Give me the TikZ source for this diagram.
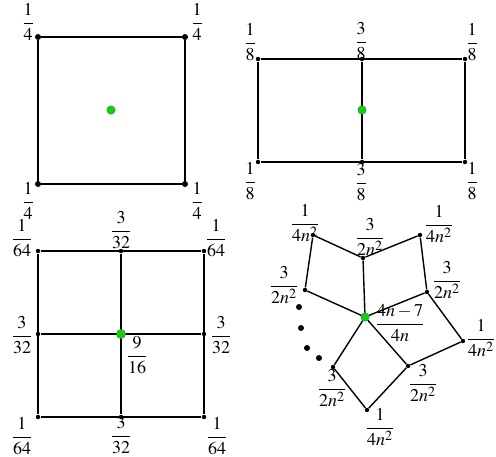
\documentclass[tikz,border=0pt]{standalone}
\usepackage{amsmath}
\usepackage{mathptmx}
\usepackage{tikz}
\usetikzlibrary{positioning}
\definecolor{mygreen}{RGB}{20,205,20}
\definecolor{mydark}{RGB}{0,0,0}
\tikzset{
  vtx/.style={circle, fill=mydark, inner sep=0pt, minimum size=2.2pt},
  bigvtx/.style={circle, fill=mydark, inner sep=0pt, minimum size=3pt},
  ctr/.style={circle, fill=mygreen, draw=mygreen!75!black, line width=0.2pt, inner sep=0pt, minimum size=4.2pt},
  side/.style={line width=0.9pt, color=mydark},
  thinside/.style={line width=0.7pt, color=mydark},
  lbl/.style={inner sep=0pt, font=\fontsize{9}{11}\selectfont}
}

\begin{document}
\begin{tikzpicture}[x=0.5pt, y=-0.5pt]
  \useasboundingbox (0,0) rectangle (496,456);
  % Square, one cell
  \node[bigvtx] (sa) at (38,37) {};
  \node[bigvtx] (sb) at (185,37) {};
  \node[bigvtx] (sc) at (185,184) {};
  \node[bigvtx] (sd) at (38,184) {};
  \node[ctr] (so) at (111,110) {};
  \draw[side] (sa) -- (sb) -- (sc) -- (sd) -- (sa);
  \node[lbl] (lsa) at (28,22) {$\dfrac{1}{4}$};
  \node[lbl] (lsb) at (197,22) {$\dfrac{1}{4}$};
  \node[lbl] (lsc) at (197,201) {$\dfrac{1}{4}$};
  \node[lbl] (lsd) at (28,201) {$\dfrac{1}{4}$};

  % Rectangle, two cells
  \node[vtx] (ra) at (258,59) {};
  \node[vtx] (rm) at (362,59) {};
  \node[vtx] (rb) at (465,59) {};
  \node[vtx] (rc) at (465,162) {};
  \node[vtx] (rn) at (362,162) {};
  \node[vtx] (rd) at (258,162) {};
  \draw[side] (ra) -- (rb) -- (rc) -- (rd) -- (ra);
  \draw[side] (rm) -- (rn);
  \node[ctr] (ro) at (362,110) {};
  \node[lbl] (lra) at (250,42) {$\dfrac{1}{8}$};
  \node[lbl] (lrm) at (361,41) {$\dfrac{3}{8}$};
  \node[lbl] (lrb) at (472,42) {$\dfrac{1}{8}$};
  \node[lbl] (lrd) at (250,181) {$\dfrac{1}{8}$};
  \node[lbl] (lrn) at (361,182) {$\dfrac{3}{8}$};
  \node[lbl] (lrc) at (472,181) {$\dfrac{1}{8}$};

  % Square, four cells
  \node[vtx] (qa) at (38,251) {};
  \node[vtx] (qt) at (121,251) {};
  \node[vtx] (qb) at (204,251) {};
  \node[vtx] (qr) at (204,334) {};
  \node[vtx] (qc) at (204,417) {};
  \node[vtx] (qm) at (121,417) {};
  \node[vtx] (qd) at (38,417) {};
  \node[vtx] (ql) at (38,334) {};
  \draw[side] (qa) -- (qb) -- (qc) -- (qd) -- (qa);
  \draw[side] (qt) -- (qm);
  \draw[side] (ql) -- (qr);
  \node[ctr, minimum size=4.6pt] (qo) at (121,334) {};
  \node[lbl] (lqa) at (22,238) {$\dfrac{1}{64}$};
  \node[lbl] (lqt) at (121,230) {$\dfrac{3}{32}$};
  \node[lbl] (lqb) at (216,238) {$\dfrac{1}{64}$};
  \node[lbl] (lql) at (22,335) {$\dfrac{3}{32}$};
  \node[lbl] (lqr) at (221,335) {$\dfrac{3}{32}$};
  \node[lbl] (lqo) at (137,355) {$\dfrac{9}{16}$};
  \node[lbl] (lqd) at (22,436) {$\dfrac{1}{64}$};
  \node[lbl] (lqm) at (121,435) {$\dfrac{3}{32}$};
  \node[lbl] (lqc) at (217,436) {$\dfrac{1}{64}$};

  % Star of cells around the centre
  \node[vtx] (ka) at (313,235) {};
  \node[vtx] (kb) at (363,258) {};
  \node[vtx] (kc) at (420,235) {};
  \node[vtx] (kd) at (427,292) {};
  \node[vtx] (ke) at (463,341) {};
  \node[vtx] (kf) at (408,366) {};
  \node[vtx] (kg) at (367,410) {};
  \node[vtx] (kh) at (333,367) {};
  \node[vtx] (ki) at (305,290) {};
  \node[ctr] (ko) at (365,317) {};
  \draw[thinside] (ki) -- (ka) -- (kb) -- (kc) -- (kd) -- (ke) -- (kf) -- (kg) -- (kh);
  \draw[thinside] (ko) -- (ki);
  \draw[thinside] (ko) -- (kb);
  \draw[thinside] (ko) -- (kd);
  \draw[thinside] (ko) -- (kf);
  \draw[thinside] (ko) -- (kh);
  \foreach \i/\p in {1/{(299,307)}, 2/{(301,328)}, 3/{(307,348)}, 4/{(319,358)}}
    \node[bigvtx] (dot\i) at \p {};
  \node[lbl] (lka) at (305,223) {$\dfrac{1}{4n^2}$};
  \node[lbl] (lkb) at (370,237) {$\dfrac{3}{2n^2}$};
  \node[lbl] (lkc) at (439,224) {$\dfrac{1}{4n^2}$};
  \node[lbl] (lkd) at (447,280) {$\dfrac{3}{2n^2}$};
  \node[lbl] (lke) at (481,338) {$\dfrac{1}{4n^2}$};
  \node[lbl] (lkf) at (423,383) {$\dfrac{3}{2n^2}$};
  \node[lbl] (lkg) at (380,427) {$\dfrac{1}{4n^2}$};
  \node[lbl] (lkh) at (332,388) {$\dfrac{3}{2n^2}$};
  \node[lbl] (lki) at (284,285) {$\dfrac{3}{2n^2}$};
  \node[lbl] (lko) at (400,323) {$\dfrac{4n-7}{4n}$};
\end{tikzpicture}
\end{document}
